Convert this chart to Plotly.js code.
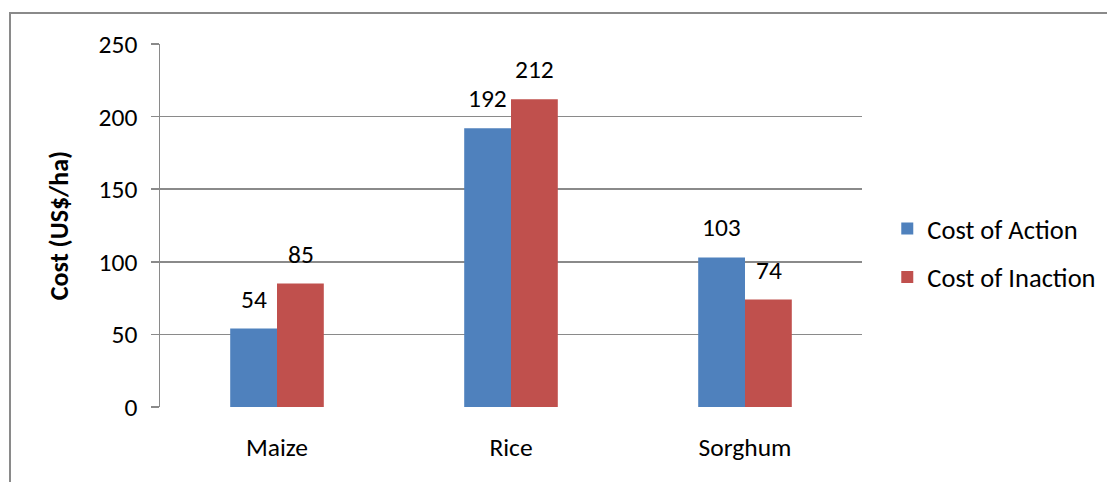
<!DOCTYPE html>
<html>
<head>
<meta charset="utf-8">
<script src="https://cdn.plot.ly/plotly-3.0.1.min.js"></script>
<style>
html,body{margin:0;padding:0;background:#fff;overflow:hidden;}
#frame{position:absolute;left:9px;top:12px;width:1200px;height:600px;border:2px solid #8a8a8a;box-sizing:border-box;}
#chart{position:absolute;left:0;top:0;width:1107px;height:482px;}
</style>
</head>
<body>
<div id="frame"></div>
<div id="chart"></div>
<script>
const categories = ["Maize", "Rice", "Sorghum"];
const costOfAction = [54, 192, 103];
const costOfInaction = [85, 212, 74];
const seriesNames = ["Cost of Action", "Cost of Inaction"];
const yTicks = [0, 50, 100, 150, 200, 250];

const FONT = "Carlito, Lato, 'Open Sans', sans-serif";
const FS = 25.5;
const colors = ["#4F81BD", "#C0504D"];

const traces = [costOfAction, costOfInaction].map((vals, i) => ({
  type: "bar",
  x: categories,
  y: vals,
  name: seriesNames[i],
  legendgroup: "g" + i,
  marker: {color: colors[i]},
  hoverinfo: "skip"
}));

const annotations = [];
[costOfAction, costOfInaction].forEach((vals, i) => {
  vals.forEach((v, j) => {
    annotations.push({
      x: categories[j], y: v, xref: "x", yref: "y",
      text: String(v), showarrow: false,
      xanchor: "center", yanchor: "bottom",
      xshift: i === 0 ? -23.5 : 23.5, yshift: 12,
      font: {family: FONT, size: FS, color: "#000"}
    });
  });
});

const layout = {
  width: 1107, height: 482,
  margin: {l: 160, r: 245, t: 44, b: 75, autoexpand: false},
  paper_bgcolor: "rgba(0,0,0,0)",
  plot_bgcolor: "rgba(0,0,0,0)",
  barmode: "group",
  bargap: 0.6,
  bargroupgap: 0,
  font: {family: FONT, size: FS, color: "#000"},
  showlegend: true,
  legend: {
    x: 1.036, xanchor: "left", y: 0.425, yanchor: "middle",
    font: {family: FONT, size: 26.5, color: "#000"},
    traceorder: "grouped", tracegroupgap: 11, itemsizing: "constant"
  },
  xaxis: {
    type: "category",
    showgrid: false, zeroline: false, showline: false,
    ticks: "", ticklabelstandoff: 22,
    tickfont: {family: FONT, size: FS, color: "#000"},
    fixedrange: true
  },
  yaxis: {
    range: [0, 250],
    tickvals: yTicks,
    ticktext: yTicks.map(String),
    showgrid: true, gridcolor: "#8a8a8a", gridwidth: 1.5,
    zeroline: false,
    showline: true, linecolor: "#8a8a8a", linewidth: 1.5,
    ticks: "outside", ticklen: 8, tickcolor: "#8a8a8a", tickwidth: 1.5,
    ticklabelstandoff: 8,
    tickfont: {family: FONT, size: FS, color: "#000"},
    title: {text: "<b>Cost (US$/ha)</b>", font: {family: FONT, size: 26, color: "#000"}, standoff: 22},
    fixedrange: true
  },
  annotations: annotations
};

Plotly.newPlot("chart", traces, layout, {displayModeBar: false, staticPlot: true});
</script>
</body>
</html>
